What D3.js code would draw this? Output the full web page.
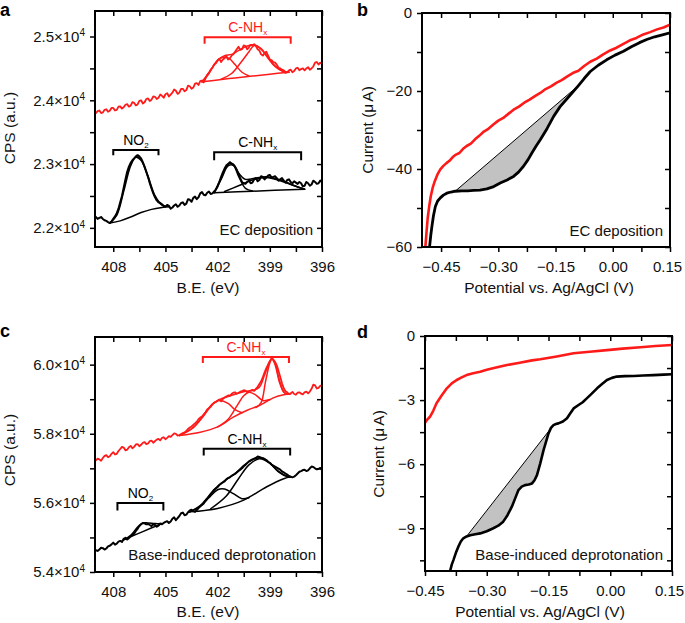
<!DOCTYPE html>
<html>
<head>
<meta charset="utf-8">
<script src="https://cdn.jsdelivr.net/npm/d3@7"></script>
<style>
body { margin: 0; background: #fff; }
svg { font-family: "Liberation Sans", Arial, Helvetica, sans-serif; }
</style>
</head>
<body>
<div id="chart"></div>
<script>
// ---- Panel a: XPS N1s, EC deposition ----
const redA = [[409.0,23800],[408.9,23830],[408.8,23840],[408.7,23800],[408.6,23810],[408.5,23850],[408.4,23860],[408.3,23820],[408.2,23835],[408.1,23880],[408.0,23880],[407.9,23840],[407.8,23850],[407.7,23900],[407.6,23905],[407.5,23870],[407.4,23890],[407.3,23930],[407.2,23940],[407.1,23900],[407.0,23915],[406.9,23970],[406.8,23960],[406.7,23920],[406.6,23935],[406.5,23990],[406.4,24000],[406.3,23950],[406.2,23970],[406.1,24020],[406.0,24030],[405.9,23990],[405.8,24010],[405.7,24060],[405.6,24055],[405.5,24020],[405.4,24040],[405.3,24090],[405.2,24070],[405.1,24040],[405.0,24095],[404.9,24110],[404.8,24060],[404.7,24090],[404.6,24120],[404.5,24170],[404.4,24150],[404.3,24100],[404.2,24120],[404.1,24180],[404.0,24180],[403.9,24140],[403.8,24160],[403.7,24230],[403.6,24220],[403.5,24180],[403.4,24200],[403.3,24260],[403.2,24270],[403.1,24240],[403.0,24300],[402.9,24310],[402.8,24280],[402.7,24340],[402.6,24400],[402.5,24430],[402.4,24480],[402.3,24510],[402.2,24560],[402.1,24580],[402.0,24620],[401.9,24650],[401.8,24600],[401.7,24640],[401.6,24660],[401.5,24690],[401.4,24640],[401.3,24660],[401.2,24700],[401.1,24720],[401.0,24760],[400.9,24800],[400.8,24840],[400.7,24790],[400.6,24800],[400.5,24860],[400.4,24850],[400.3,24800],[400.2,24830],[400.1,24870],[400.0,24860],[399.9,24880],[399.8,24850],[399.7,24800],[399.6,24780],[399.5,24720],[399.4,24700],[399.3,24740],[399.2,24760],[399.1,24700],[399.0,24640],[398.9,24630],[398.8,24600],[398.7,24590],[398.6,24560],[398.5,24510],[398.4,24500],[398.3,24480],[398.2,24470],[398.1,24430],[398.0,24440],[397.9,24470],[397.8,24480],[397.7,24440],[397.6,24460],[397.5,24500],[397.4,24510],[397.3,24470],[397.2,24490],[397.1,24500],[397.0,24470],[396.9,24500],[396.8,24520],[396.7,24480],[396.6,24500],[396.5,24530],[396.4,24590],[396.3,24600],[396.2,24560],[396.1,24590],[396.0,24570]];
const redABase = [[402.9,24290],[402.0,24320],[401.0,24350],[400.0,24380],[399.0,24410],[397.9,24440]];
const redAComp1 = [[402.9,24290],[402.5,24420],[402.2,24560],[401.9,24650],[401.6,24680],[401.3,24650],[401.0,24560],[400.6,24440],[400.2,24380]];
const redAComp2 = [[401.8,24330],[401.2,24420],[400.7,24580],[400.2,24760],[399.9,24860],[399.5,24800],[399.1,24660],[398.7,24530],[398.3,24460],[397.9,24440]];
const redAEnv = [[402.9,24290],[402.4,24470],[402.0,24630],[401.6,24700],[401.2,24720],[400.8,24780],[400.3,24850],[399.9,24870],[399.5,24810],[399.1,24670],[398.7,24540],[398.3,24465],[397.9,24440]];

const blackA = [[409.0,22170],[408.9,22140],[408.8,22155],[408.7,22170],[408.6,22140],[408.5,22120],[408.4,22110],[408.3,22090],[408.2,22075],[408.1,22100],[408.0,22140],[407.9,22180],[407.8,22230],[407.7,22300],[407.6,22400],[407.5,22500],[407.4,22630],[407.3,22760],[407.2,22880],[407.1,22960],[407.0,23020],[406.9,23060],[406.8,23090],[406.7,23120],[406.6,23140],[406.5,23120],[406.4,23090],[406.3,23030],[406.2,22960],[406.1,22880],[406.0,22800],[405.9,22700],[405.8,22620],[405.7,22540],[405.6,22480],[405.5,22430],[405.4,22400],[405.3,22390],[405.2,22370],[405.1,22340],[405.0,22330],[404.9,22360],[404.8,22345],[404.7,22300],[404.6,22320],[404.5,22350],[404.4,22370],[404.3,22330],[404.2,22350],[404.1,22390],[404.0,22400],[403.9,22360],[403.8,22380],[403.7,22450],[403.6,22440],[403.5,22410],[403.4,22470],[403.3,22490],[403.2,22450],[403.1,22480],[403.0,22540],[402.9,22560],[402.8,22520],[402.7,22510],[402.6,22550],[402.5,22570],[402.4,22530],[402.3,22540],[402.2,22570],[402.1,22600],[402.0,22650],[401.9,22720],[401.8,22800],[401.7,22870],[401.6,22930],[401.5,22980],[401.4,23000],[401.3,23030],[401.2,23010],[401.1,22990],[401.0,22960],[400.9,22910],[400.8,22850],[400.7,22780],[400.6,22720],[400.5,22700],[400.4,22690],[400.3,22720],[400.2,22740],[400.1,22700],[400.0,22710],[399.9,22760],[399.8,22780],[399.7,22730],[399.6,22750],[399.5,22810],[399.4,22800],[399.3,22760],[399.2,22790],[399.1,22820],[399.0,22830],[398.9,22790],[398.8,22800],[398.7,22810],[398.6,22780],[398.5,22740],[398.4,22760],[398.3,22780],[398.2,22740],[398.1,22710],[398.0,22750],[397.9,22760],[397.8,22720],[397.7,22700],[397.6,22730],[397.5,22710],[397.4,22690],[397.3,22720],[397.2,22700],[397.1,22650],[397.0,22660],[396.9,22720],[396.8,22700],[396.7,22660],[396.6,22680],[396.5,22740],[396.4,22720],[396.3,22690],[396.2,22700],[396.1,22740],[396.0,22720]];
const blackANo2Base = [[408.2,22075],[407.6,22110],[407.0,22170],[406.4,22240],[405.8,22290],[405.2,22320],[404.8,22333]];
const blackANo2Env = [[408.2,22075],[407.8,22200],[407.4,22580],[407.0,22980],[406.7,23110],[406.4,23060],[406.0,22800],[405.6,22500],[405.2,22360],[404.8,22333]];
const blackABase = [[402.2,22550],[400.0,22575],[397.0,22605]];
const blackAComp1 = [[402.2,22550],[401.8,22760],[401.4,22970],[401.1,22980],[400.8,22810],[400.4,22620],[400.0,22580]];
const blackAComp2 = [[401.6,22570],[400.8,22660],[400.0,22750],[399.2,22790],[398.4,22740],[397.6,22660],[397.0,22605]];
const blackAEnv = [[402.2,22550],[401.8,22780],[401.4,23000],[401.1,23000],[400.8,22860],[400.4,22760],[399.8,22780],[399.2,22800],[398.4,22750],[397.6,22665],[397.0,22605]];

// ---- Panel c: XPS N1s, base-induced deprotonation ----
const redC = [[409.0,57230],[408.9,57280],[408.8,57260],[408.7,57220],[408.6,57300],[408.5,57360],[408.4,57380],[408.3,57320],[408.2,57350],[408.1,57420],[408.0,57470],[407.9,57400],[407.8,57420],[407.7,57500],[407.6,57560],[407.5,57620],[407.4,57600],[407.3,57520],[407.2,57540],[407.1,57610],[407.0,57650],[406.9,57580],[406.8,57620],[406.7,57690],[406.6,57700],[406.5,57640],[406.4,57680],[406.3,57740],[406.2,57760],[406.1,57700],[406.0,57720],[405.9,57790],[405.8,57800],[405.7,57740],[405.6,57790],[405.5,57830],[405.4,57850],[405.3,57810],[405.2,57880],[405.1,57900],[405.0,57840],[404.9,57880],[404.8,57930],[404.7,57910],[404.6,57960],[404.5,58010],[404.4,58000],[404.3,57950],[404.2,57960],[404.1,57990],[404.0,58020],[403.9,58040],[403.8,58080],[403.7,58140],[403.6,58180],[403.5,58210],[403.4,58260],[403.3,58300],[403.2,58350],[403.1,58420],[403.0,58470],[402.9,58500],[402.8,58560],[402.7,58620],[402.6,58700],[402.5,58740],[402.4,58780],[402.3,58850],[402.2,58900],[402.1,58920],[402.0,58960],[401.9,58990],[401.8,58940],[401.7,59010],[401.6,59050],[401.5,59080],[401.4,59110],[401.3,59100],[401.2,59150],[401.1,59190],[401.0,59200],[400.9,59160],[400.8,59180],[400.7,59220],[400.6,59230],[400.5,59260],[400.4,59250],[400.3,59200],[400.2,59230],[400.1,59250],[400.0,59270],[399.9,59240],[399.8,59300],[399.7,59360],[399.6,59440],[399.5,59520],[399.4,59640],[399.3,59780],[399.2,59900],[399.1,60000],[399.0,60100],[398.9,60170],[398.8,60140],[398.7,60080],[398.6,59980],[398.5,59820],[398.4,59640],[398.3,59460],[398.2,59320],[398.1,59230],[398.0,59200],[397.9,59150],[397.8,59170],[397.7,59210],[397.6,59150],[397.5,59130],[397.4,59190],[397.3,59200],[397.2,59160],[397.1,59140],[397.0,59200],[396.9,59220],[396.8,59170],[396.7,59220],[396.6,59300],[396.5,59420],[396.4,59400],[396.3,59310],[396.2,59330],[396.1,59390],[396.0,59380]];
const redCBase = [[404.2,57950],[403.0,58045],[402.0,58200],[401.1,58480],[400.3,58680],[399.55,58830],[398.8,59040],[398.2,59130],[397.8,59150]];
const redCComp1 = [[404.2,57950],[403.4,58180],[402.8,58520],[402.3,58850],[401.9,58960],[401.4,58880],[401.0,58700],[400.6,58610]];
const redCComp2 = [[402.0,58200],[401.4,58420],[400.9,58800],[400.5,59100],[400.2,59200],[399.8,59120],[399.4,58960],[399.0,58990]];
const redCComp3 = [[399.8,58760],[399.5,58900],[399.25,59500],[399.0,60050],[398.88,60160],[398.7,60000],[398.45,59500],[398.2,59200],[398.0,59140]];
const redCEnv = [[404.2,57950],[403.4,58180],[402.8,58540],[402.3,58860],[401.9,58990],[401.4,59080],[400.9,59160],[400.4,59230],[400.0,59250],[399.6,59350],[399.3,59700],[399.0,60100],[398.88,60190],[398.7,60050],[398.45,59550],[398.2,59220],[398.0,59150]];

const blackC = [[409.0,54630],[408.9,54610],[408.8,54650],[408.7,54700],[408.6,54690],[408.5,54650],[408.4,54680],[408.3,54740],[408.2,54760],[408.1,54800],[408.0,54850],[407.9,54790],[407.8,54820],[407.7,54880],[407.6,54900],[407.5,54870],[407.4,54960],[407.3,54990],[407.2,54940],[407.1,54980],[407.0,55030],[406.9,55070],[406.8,55110],[406.7,55190],[406.6,55250],[406.5,55330],[406.4,55380],[406.3,55420],[406.2,55410],[406.1,55380],[406.0,55390],[405.9,55360],[405.8,55330],[405.7,55380],[405.6,55360],[405.5,55310],[405.4,55340],[405.3,55400],[405.2,55380],[405.1,55420],[405.0,55450],[404.9,55470],[404.8,55420],[404.7,55460],[404.6,55540],[404.5,55580],[404.4,55500],[404.3,55560],[404.2,55620],[404.1,55700],[404.0,55720],[403.9,55640],[403.8,55660],[403.7,55730],[403.6,55780],[403.5,55800],[403.4,55760],[403.3,55740],[403.2,55790],[403.1,55850],[403.0,55900],[402.9,55940],[402.8,55980],[402.7,56060],[402.6,56120],[402.5,56190],[402.4,56260],[402.3,56320],[402.2,56380],[402.1,56420],[402.0,56460],[401.9,56520],[401.8,56560],[401.7,56590],[401.6,56620],[401.5,56680],[401.4,56720],[401.3,56740],[401.2,56780],[401.1,56810],[401.0,56840],[400.9,56880],[400.8,56920],[400.7,56960],[400.6,57000],[400.5,57060],[400.4,57100],[400.3,57150],[400.2,57200],[400.1,57230],[400.0,57260],[399.9,57280],[399.8,57300],[399.7,57340],[399.6,57330],[399.5,57310],[399.4,57290],[399.3,57270],[399.2,57240],[399.1,57190],[399.0,57160],[398.9,57110],[398.8,57080],[398.7,57050],[398.6,57020],[398.5,56990],[398.4,56960],[398.3,56910],[398.2,56880],[398.1,56850],[398.0,56820],[397.9,56780],[397.8,56760],[397.7,56740],[397.6,56760],[397.5,56800],[397.4,56850],[397.3,56900],[397.2,56920],[397.1,56950],[397.0,56960],[396.9,56920],[396.8,56940],[396.7,57000],[396.6,57050],[396.5,57040],[396.4,57000],[396.3,56970],[396.2,56980],[396.1,57010],[396.0,56950]];
const blackCNo2Base = [[407.4,54930],[406.3,55170],[405.2,55400]];
const blackCNo2Env = [[407.4,54930],[407.0,55060],[406.6,55300],[406.3,55420],[406.0,55420],[405.6,55400],[405.2,55400]];
const blackCBase = [[403.6,55740],[402.0,55840],[400.5,56080],[399.2,56460],[398.2,56700],[397.8,56754]];
const blackCComp1 = [[403.6,55740],[403.0,55900],[402.5,56150],[402.0,56380],[401.6,56400],[401.1,56270],[400.6,56120],[400.2,56150]];
const blackCComp2 = [[402.4,55830],[401.5,56200],[400.8,56700],[400.2,57100],[399.6,57280],[399.0,57150],[398.5,56900],[398.0,56760],[397.8,56754]];
const blackCEnv = [[403.6,55740],[403.0,55920],[402.5,56200],[402.0,56480],[401.5,56680],[401.0,56850],[400.4,57120],[399.8,57290],[399.4,57290],[399.0,57150],[398.5,56910],[398.0,56770],[397.8,56754]];

// ---- Panel b: LSV, EC deposition ----
const redB = [[-0.491,-59.8],[-0.488,-56],[-0.485,-52.5],[-0.481,-49.5],[-0.477,-47],[-0.472,-44.8],[-0.466,-43],[-0.459,-41.3],[-0.452,-40.1],[-0.444,-39.2],[-0.436,-38.5],[-0.428,-37.9],[-0.420,-37.0],[-0.411,-36.3],[-0.402,-35.9],[-0.393,-34.9],[-0.383,-34.1],[-0.372,-33.5],[-0.361,-32.4],[-0.350,-31.5],[-0.338,-30.4],[-0.326,-29.7],[-0.313,-28.6],[-0.300,-27.6],[-0.287,-26.9],[-0.273,-25.8],[-0.260,-24.8],[-0.246,-24.0],[-0.232,-23.0],[-0.218,-22.2],[-0.204,-21.3],[-0.190,-20.5],[-0.176,-19.5],[-0.162,-18.8],[-0.148,-17.9],[-0.134,-17.2],[-0.120,-16.3],[-0.105,-15.4],[-0.090,-14.8],[-0.075,-13.6],[-0.059,-12.5],[-0.042,-11.7],[-0.025,-10.6],[-0.007,-9.6],[0.010,-8.9],[0.028,-7.9],[0.045,-7.0],[0.062,-6.4],[0.080,-5.5],[0.098,-4.9],[0.116,-4.2],[0.133,-3.7],[0.150,-3.0]];
const blackB = [[-0.480,-59.8],[-0.477,-57],[-0.474,-54.7],[-0.470,-52],[-0.465,-49.6],[-0.459,-48.2],[-0.452,-47.4],[-0.444,-46.7],[-0.435,-46.2],[-0.424,-45.9],[-0.413,-45.7],[-0.395,-45.6],[-0.380,-45.6],[-0.365,-45.5],[-0.348,-45.4],[-0.330,-45.1],[-0.312,-44.5],[-0.295,-43.6],[-0.277,-42.8],[-0.260,-41.9],[-0.247,-40.8],[-0.234,-39.3],[-0.222,-37.6],[-0.212,-35.9],[-0.200,-34.0],[-0.190,-32.5],[-0.172,-29.6],[-0.155,-26.5],[-0.138,-24.0],[-0.120,-22.0],[-0.103,-20.1],[-0.090,-18.6],[-0.075,-16.8],[-0.059,-15.0],[-0.038,-13.4],[-0.016,-12.0],[0.006,-10.8],[0.028,-9.8],[0.050,-8.6],[0.070,-7.6],[0.089,-6.8],[0.110,-6.1],[0.130,-5.6],[0.150,-5.1]];
const shadeB = [-0.413, -0.090];

// ---- Panel d: LSV, base-induced deprotonation ----
const redD = [[-0.450,-4.06],[-0.444,-3.9],[-0.438,-3.78],[-0.430,-3.5],[-0.422,-3.15],[-0.410,-2.8],[-0.397,-2.45],[-0.385,-2.22],[-0.373,-2.06],[-0.361,-1.94],[-0.349,-1.83],[-0.333,-1.74],[-0.316,-1.67],[-0.300,-1.58],[-0.280,-1.49],[-0.251,-1.36],[-0.220,-1.25],[-0.190,-1.14],[-0.170,-1.09],[-0.130,-0.96],[-0.089,-0.81],[-0.050,-0.74],[-0.008,-0.66],[0.030,-0.59],[0.073,-0.53],[0.110,-0.47],[0.150,-0.42]];
const blackD = [[-0.389,-11.0],[-0.385,-10.7],[-0.381,-10.49],[-0.375,-10.15],[-0.369,-9.86],[-0.363,-9.62],[-0.357,-9.47],[-0.349,-9.38],[-0.340,-9.33],[-0.328,-9.28],[-0.316,-9.24],[-0.300,-9.14],[-0.284,-9.0],[-0.272,-8.88],[-0.260,-8.69],[-0.250,-8.4],[-0.239,-7.99],[-0.231,-7.6],[-0.223,-7.21],[-0.215,-7.05],[-0.207,-6.98],[-0.198,-6.95],[-0.190,-6.9],[-0.184,-6.75],[-0.178,-6.51],[-0.170,-5.96],[-0.162,-5.34],[-0.150,-4.56],[-0.144,-4.3],[-0.138,-4.17],[-0.132,-4.12],[-0.126,-4.09],[-0.115,-4.0],[-0.105,-3.85],[-0.097,-3.62],[-0.089,-3.39],[-0.077,-3.23],[-0.067,-3.1],[-0.057,-2.92],[-0.045,-2.7],[-0.032,-2.45],[-0.020,-2.25],[-0.008,-2.06],[0.004,-1.96],[0.016,-1.9],[0.035,-1.88],[0.057,-1.87],[0.080,-1.85],[0.105,-1.83],[0.130,-1.81],[0.150,-1.79]];
const shadeD = [-0.349, -0.138];

// tick values
const beMajor = [408, 405, 402, 399, 396];
const beMinor = [406.5, 403.5, 400.5, 397.5];
const cpsAMajor = [22000, 23000, 24000, 25000];
const cpsAMinor = [22500, 23500, 24500];
const cpsCMajor = [54000, 56000, 58000, 60000];
const cpsCMinor = [55000, 57000, 59000];
const potMajor = [-0.45, -0.30, -0.15, 0.00, 0.15];
const potMinor = [-0.375, -0.225, -0.075, 0.075];
const curBMajor = [-60, -40, -20, 0];
const curBMinor = [-50, -30, -10];
const curDMajor = [-9, -6, -3, 0];
const curDMinor = [-10.5, -7.5, -4.5, -1.5];

// bracket annotations (data units)
const bracketsA = [
  {x0: 402.75, x1: 397.8, top: 24990, leg: 24886, label: "C-NH", sub: "x", red: true},
  {x0: 408.0, x1: 405.4, top: 23219, leg: 23140, label: "NO", sub: "2", red: false},
  {x0: 402.2, x1: 397.2, top: 23187, leg: 23062, label: "C-NH", sub: "x", red: false}
];
const bracketsC = [
  {x0: 402.85, x1: 397.9, top: 60220, leg: 60046, label: "C-NH", sub: "x", red: true},
  {x0: 402.8, x1: 397.83, top: 57565, leg: 57371, label: "C-NH", sub: "x", red: false},
  {x0: 407.76, x1: 405.12, top: 56000, leg: 55777, label: "NO", sub: "2", red: false}
];

const RED = "#ff1a1a";
const svg = d3.select("#chart").append("svg").attr("width", 685).attr("height", 623);

function makePanel(o) {
  const x = d3.scaleLinear().domain(o.xDomain).range([o.left, o.right]);
  const y = d3.scaleLinear().domain(o.yDomain).range([o.bottom, o.top]);
  const g = svg.append("g");
  svg.append("clipPath").attr("id", "clip-" + o.id).append("rect")
    .attr("x", o.left).attr("y", o.top).attr("width", o.right - o.left).attr("height", o.bottom - o.top);
  const plot = g.append("g").attr("clip-path", `url(#clip-${o.id})`);
  return {x, y, g, plot};
}

function drawAxes(p, o) {
  const {x, y, g} = p;
  const style = sel => {
    sel.select(".domain").remove();
    sel.attr("font-family", null).attr("font-size", 15);
    sel.selectAll(".tick line").attr("stroke-width", 1.5);
    sel.selectAll(".tick text").attr("fill", "#111");
  };
  const xAll = o.xMajor.concat(o.xMinor), yAll = o.yMajor.concat(o.yMinor);
  const bottom = g.append("g").attr("transform", `translate(0,${o.bottom})`)
    .call(d3.axisBottom(x).tickValues(xAll).tickSize(5).tickPadding(9)
      .tickFormat(d => o.xMajor.includes(d) ? o.xFmt(d) : ""))
    .call(style);
  // keep the right-most label inside the page
  if (o.right > 660) {
    bottom.selectAll(".tick text").filter(d => d === o.xMajor[o.xMajor.length - 1]).attr("dx", -3);
  }
  g.append("g").attr("transform", `translate(0,${o.top})`)
    .call(d3.axisTop(x).tickValues(xAll).tickSize(-5).tickFormat(""))
    .call(style);
  const left = g.append("g").attr("transform", `translate(${o.left},0)`)
    .call(d3.axisLeft(y).tickValues(yAll).tickSize(5).tickPadding(5)
      .tickFormat(d => o.yMajor.includes(d) ? (o.sci ? "" : o.yFmt(d)) : ""))
    .call(style);
  if (o.sci) {
    left.selectAll(".tick text").each(function(d) {
      if (!o.yMajor.includes(d)) return;
      const t = d3.select(this);
      t.append("tspan").text((d / 1e4).toFixed(1) + "×10");
      t.append("tspan").attr("dy", "-0.55em").attr("font-size", 10).text("4");
    });
  }
  g.append("g").attr("transform", `translate(${o.right},0)`)
    .call(d3.axisRight(y).tickValues(yAll).tickSize(-5).tickFormat(""))
    .call(style);
  g.append("rect").attr("x", o.left).attr("y", o.top)
    .attr("width", o.right - o.left).attr("height", o.bottom - o.top)
    .attr("fill", "none").attr("stroke", "#000").attr("stroke-width", 2);

  g.append("text").attr("x", o.xTitle[0]).attr("y", o.xTitle[1]).attr("text-anchor", "middle")
    .attr("font-size", 15.5).attr("fill", "#111").text(o.xLabel);
  const yt = g.append("text").attr("transform", `translate(${o.yTitle[0]},${o.yTitle[1]}) rotate(-90)`)
    .attr("text-anchor", "middle").attr("font-size", 15.5).attr("fill", "#111");
  if (o.yLabel === "current") {
    yt.append("tspan").text("Current (μ");
    yt.append("tspan").attr("dx", 2).text("A)");
  } else {
    yt.text(o.yLabel);
  }
  g.append("text").attr("x", o.tag[0]).attr("y", o.tag[1]).attr("font-size", 18)
    .attr("font-weight", "bold").text(o.tagText);
  g.append("text").attr("x", o.note[0]).attr("y", o.note[1]).attr("text-anchor", "end")
    .attr("font-size", 15).attr("fill", "#111").text(o.noteText);
}

function drawSpectrum(p, series) {
  const raw = d3.line().x(d => p.x(d[0])).y(d => p.y(d[1]));
  const smooth = d3.line().x(d => p.x(d[0])).y(d => p.y(d[1])).curve(d3.curveCatmullRom);
  series.forEach(s => {
    p.plot.append("path").datum(s.data)
      .attr("d", s.fit ? smooth : raw)
      .attr("fill", "none").attr("stroke", s.color)
      .attr("stroke-width", s.w).attr("stroke-linejoin", "round").attr("stroke-linecap", "round");
  });
}

function drawBrackets(p, list) {
  list.forEach(b => {
    const c = b.red ? RED : "#000";
    p.g.append("path")
      .attr("d", `M${p.x(b.x0)},${p.y(b.leg)}V${p.y(b.top)}H${p.x(b.x1)}V${p.y(b.leg)}`)
      .attr("fill", "none").attr("stroke", c).attr("stroke-width", 2);
    const t = p.g.append("text").attr("x", (p.x(b.x0) + p.x(b.x1)) / 2).attr("y", p.y(b.top) - 5)
      .attr("text-anchor", "middle").attr("font-size", 14).attr("fill", c);
    t.append("tspan").text(b.label);
    t.append("tspan").attr("font-size", 8).attr("dy", 3).text(b.sub);
  });
}

function drawShade(p, data, range) {
  const seg = data.filter(d => d[0] >= range[0] - 1e-9 && d[0] <= range[1] + 1e-9);
  const area = d3.line().x(d => p.x(d[0])).y(d => p.y(d[1]));
  p.plot.append("path").datum(seg).attr("d", area(seg) + "Z")
    .attr("fill", "#c2c2c2").attr("stroke", "none");
  const a = seg[0], b = seg[seg.length - 1];
  p.plot.append("line").attr("x1", p.x(a[0])).attr("y1", p.y(a[1]))
    .attr("x2", p.x(b[0])).attr("y2", p.y(b[1])).attr("stroke", "#000").attr("stroke-width", 1);
}

const beFmt = d => String(d);
const potFmt = d3.format(".2f");
const curFmt = d3.format("d");

// ---- a ----
const oA = {id: "a", left: 95, top: 11, right: 322, bottom: 247, xDomain: [409.05, 396], yDomain: [21700, 25400],
  xMajor: beMajor, xMinor: beMinor, yMajor: cpsAMajor, yMinor: cpsAMinor, xFmt: beFmt, sci: true,
  xLabel: "B.E. (eV)", yLabel: "CPS (a.u.)", xTitle: [208, 293], yTitle: [15, 128],
  tag: [0, 16], tagText: "a", note: [313, 235], noteText: "EC deposition"};
const pA = makePanel(oA);
drawSpectrum(pA, [
  {data: redABase, color: RED, w: 1.5, fit: true},
  {data: redAComp1, color: RED, w: 1.5, fit: true},
  {data: redAComp2, color: RED, w: 1.5, fit: true},
  {data: redAEnv, color: RED, w: 1.5, fit: true},
  {data: redA, color: RED, w: 1.8, fit: false},
  {data: blackANo2Base, color: "#000", w: 1.5, fit: true},
  {data: blackANo2Env, color: "#000", w: 1.8, fit: true},
  {data: blackABase, color: "#000", w: 1.5, fit: true},
  {data: blackAComp1, color: "#000", w: 1.5, fit: true},
  {data: blackAComp2, color: "#000", w: 1.5, fit: true},
  {data: blackAEnv, color: "#000", w: 1.5, fit: true},
  {data: blackA, color: "#000", w: 2, fit: false}
]);
drawBrackets(pA, bracketsA);
drawAxes(pA, oA);

// ---- b ----
const oB = {id: "b", left: 422, top: 13, right: 670, bottom: 247, xDomain: [-0.5, 0.15], yDomain: [-60, 0],
  xMajor: potMajor, xMinor: potMinor, yMajor: curBMajor, yMinor: curBMinor, xFmt: potFmt, yFmt: curFmt,
  xLabel: "Potential vs. Ag/AgCl (V)", yLabel: "current", xTitle: [549, 293], yTitle: [373, 130],
  tag: [357, 16], tagText: "b", note: [663, 236], noteText: "EC deposition"};
const pB = makePanel(oB);
drawShade(pB, blackB, shadeB);
drawSpectrum(pB, [
  {data: redB, color: RED, w: 2.6, fit: false},
  {data: blackB, color: "#000", w: 2.8, fit: false}
]);
drawAxes(pB, oB);

// ---- c ----
const oC = {id: "c", left: 95, top: 337, right: 322, bottom: 572, xDomain: [409.05, 396], yDomain: [54000, 60800],
  xMajor: beMajor, xMinor: beMinor, yMajor: cpsCMajor, yMinor: cpsCMinor, xFmt: beFmt, sci: true,
  xLabel: "B.E. (eV)", yLabel: "CPS (a.u.)", xTitle: [208, 617], yTitle: [15, 450],
  tag: [0, 337], tagText: "c", note: [316, 560], noteText: "Base-induced deprotonation"};
const pC = makePanel(oC);
drawSpectrum(pC, [
  {data: redCBase, color: RED, w: 1.5, fit: true},
  {data: redCComp1, color: RED, w: 1.5, fit: true},
  {data: redCComp2, color: RED, w: 1.5, fit: true},
  {data: redCComp3, color: RED, w: 1.5, fit: true},
  {data: redCEnv, color: RED, w: 1.5, fit: true},
  {data: redC, color: RED, w: 1.8, fit: false},
  {data: blackCNo2Base, color: "#000", w: 1.5, fit: true},
  {data: blackCNo2Env, color: "#000", w: 1.5, fit: true},
  {data: blackCBase, color: "#000", w: 1.5, fit: true},
  {data: blackCComp1, color: "#000", w: 1.5, fit: true},
  {data: blackCComp2, color: "#000", w: 1.5, fit: true},
  {data: blackCEnv, color: "#000", w: 1.5, fit: true},
  {data: blackC, color: "#000", w: 2, fit: false}
]);
drawBrackets(pC, bracketsC);
drawAxes(pC, oC);

// ---- d ----
const oD = {id: "d", left: 425, top: 336, right: 672, bottom: 571, xDomain: [-0.45, 0.15], yDomain: [-11, 0],
  xMajor: potMajor, xMinor: potMinor, yMajor: curDMajor, yMinor: curDMinor, xFmt: potFmt, yFmt: curFmt,
  xLabel: "Potential vs. Ag/AgCl (V)", yLabel: "current", xTitle: [540, 617], yTitle: [384, 454],
  tag: [357, 338], tagText: "d", note: [663, 560], noteText: "Base-induced deprotonation"};
const pD = makePanel(oD);
drawShade(pD, blackD, shadeD);
drawSpectrum(pD, [
  {data: redD, color: RED, w: 2.6, fit: false},
  {data: blackD, color: "#000", w: 2.6, fit: false}
]);
drawAxes(pD, oD);
</script>
</body>
</html>
